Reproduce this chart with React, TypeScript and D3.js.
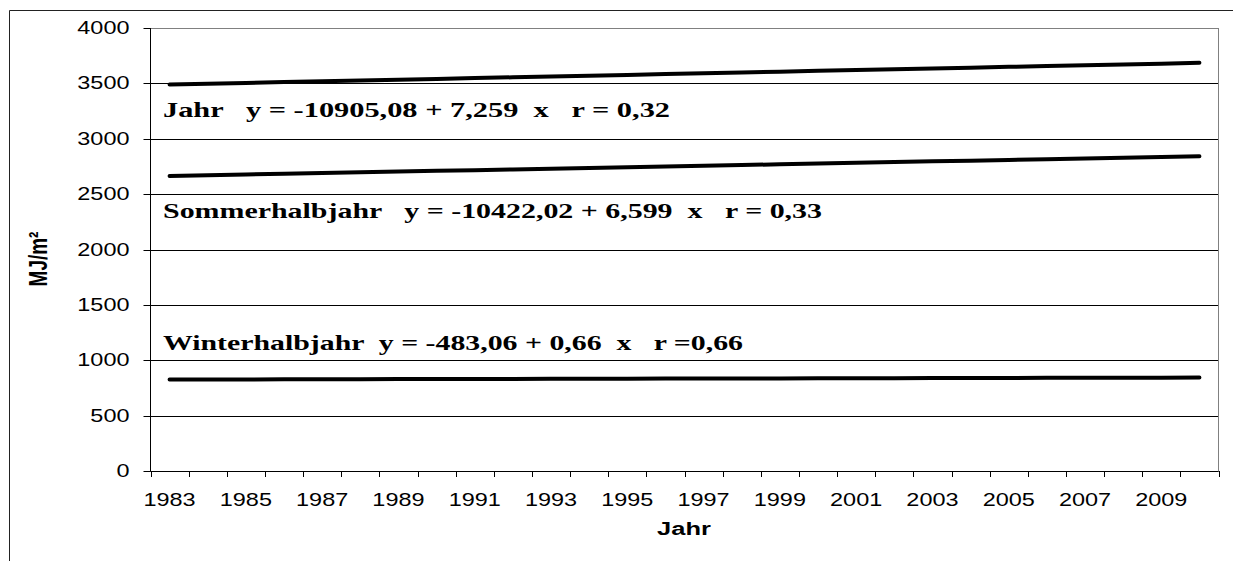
import React from 'react';
import * as d3 from 'd3';

// Categories: one per year
const years: number[] = [
  1983, 1984, 1985, 1986, 1987, 1988, 1989, 1990, 1991, 1992, 1993, 1994, 1995, 1996,
  1997, 1998, 1999, 2000, 2001, 2002, 2003, 2004, 2005, 2006, 2007, 2008, 2009, 2010,
];

// Global radiation sums (MJ/m²), linear trend series
const jahr: number[] = [
  3489.5, 3496.8, 3504.0, 3511.3, 3518.6, 3525.8, 3533.1, 3540.3, 3547.6, 3554.8,
  3562.1, 3569.4, 3576.6, 3583.9, 3591.1, 3598.4, 3605.7, 3612.9, 3620.2, 3627.4,
  3634.7, 3642.0, 3649.2, 3656.5, 3663.7, 3671.0, 3678.3, 3685.5,
];
const sommerhalbjahr: number[] = [
  2663.8, 2670.4, 2677.0, 2683.6, 2690.2, 2696.8, 2703.4, 2710.0, 2716.6, 2723.2,
  2729.8, 2736.4, 2743.0, 2749.6, 2756.2, 2762.8, 2769.4, 2776.0, 2782.6, 2789.2,
  2795.8, 2802.4, 2809.0, 2815.6, 2822.2, 2828.8, 2835.4, 2842.0,
];
const winterhalbjahr: number[] = [
  825.7, 826.4, 827.0, 827.7, 828.4, 829.0, 829.7, 830.3, 831.0, 831.7,
  832.3, 833.0, 833.6, 834.3, 835.0, 835.6, 836.3, 836.9, 837.6, 838.3,
  838.9, 839.6, 840.2, 840.9, 841.6, 842.2, 842.9, 843.5,
];

const yTicks: number[] = [0, 500, 1000, 1500, 2000, 2500, 3000, 3500, 4000];
const xTickLabels: number[] = [1983, 1985, 1987, 1989, 1991, 1993, 1995, 1997, 1999, 2001, 2003, 2005, 2007, 2009];

// Regression annotations with the value each one sits at
const annotations = [
  { text: 'Jahr   y = -10905,08 + 7,259  x   r = 0,32', at: 3200, width: 507 },
  { text: 'Sommerhalbjahr   y = -10422,02 + 6,599  x   r = 0,33', at: 2285, width: 659 },
  { text: 'Winterhalbjahr  y = -483,06 + 0,66  x   r =0,66', at: 1090, width: 580 },
];

const W = 1233;
const H = 561;
const plot = { left: 150.5, right: 1218.5, top: 28, bottom: 471 };
const SX = 1.34; // horizontal glyph stretch

export default function App() {
  const x = d3
    .scaleBand<number>()
    .domain(years)
    .range([plot.left, plot.right])
    .paddingInner(0)
    .paddingOuter(0);
  const y = d3.scaleLinear().domain([0, 4000]).range([plot.bottom, plot.top]);
  const cx = (yr: number) => (x(yr) as number) + x.bandwidth() / 2;

  const line = d3
    .line<number>()
    .x((_, i) => cx(years[i]))
    .y((v) => y(v));

  const boundaries = years.map((yr) => x(yr) as number).concat([plot.right]);

  const sans = 'Arial, "Liberation Sans", sans-serif';
  const serif = '"Times New Roman", "Liberation Serif", serif';

  return (
    <svg
      width={W}
      height={H}
      style={{ position: 'absolute', left: 0, top: 0, background: '#fff' }}
    >
      <rect x={0} y={0} width={W} height={H} fill="#fff" />
      {/* chart frame */}
      <path d={`M9.5,${H} V10.5 H${W}`} fill="none" stroke="#222" strokeWidth={1} />

      {/* gridlines */}
      {yTicks
        .filter((t) => t > 0 && t < 4000)
        .map((t) => (
          <line
            key={t}
            x1={plot.left}
            x2={plot.right}
            y1={Math.round(y(t)) + 0.5}
            y2={Math.round(y(t)) + 0.5}
            stroke="#000"
            strokeWidth={1}
          />
        ))}
      {/* plot area border */}
      <rect
        x={plot.left}
        y={plot.top + 0.5}
        width={plot.right - plot.left}
        height={plot.bottom - plot.top}
        fill="none"
        stroke="#808080"
        strokeWidth={1}
      />
      {/* axes */}
      <line x1={plot.left} x2={plot.left} y1={plot.top} y2={plot.bottom + 0.5} stroke="#000" />
      <line x1={plot.left} x2={plot.right} y1={plot.bottom + 0.5} y2={plot.bottom + 0.5} stroke="#000" />

      {/* y ticks and labels */}
      {yTicks.map((t) => {
        const yy = Math.round(y(t)) + 0.5;
        return (
          <g key={t}>
            <line x1={plot.left - 7} x2={plot.left} y1={yy} y2={yy} stroke="#000" />
            <text
              transform={`translate(129.5,${yy + 5.5}) scale(${SX},1)`}
              textAnchor="end"
              fontFamily={sans}
              fontSize={17.5}
              fill="#000"
            >
              {t}
            </text>
          </g>
        );
      })}

      {/* x ticks */}
      {boundaries.map((bx, i) => (
        <line
          key={i}
          x1={Math.round(bx) + 0.5}
          x2={Math.round(bx) + 0.5}
          y1={plot.bottom}
          y2={plot.bottom + 6}
          stroke="#000"
        />
      ))}
      {xTickLabels.map((yr) => (
        <text
          key={yr}
          transform={`translate(${cx(yr)},506) scale(${SX},1)`}
          textAnchor="middle"
          fontFamily={sans}
          fontSize={17.5}
          fill="#000"
        >
          {yr}
        </text>
      ))}

      {/* axis titles */}
      <text
        transform={`translate(684,535) scale(${SX},1)`}
        textAnchor="middle"
        fontFamily={sans}
        fontWeight="bold"
        fontSize={19}
        fill="#000"
      >
        Jahr
      </text>
      <text
        transform={`translate(47,259) scale(${SX},1) rotate(-90)`}
        textAnchor="middle"
        fontFamily={sans}
        fontWeight="bold"
        fontSize={19}
        fill="#000"
      >
        MJ/m²
      </text>

      {/* series */}
      {[jahr, sommerhalbjahr, winterhalbjahr].map((s, i) => (
        <path
          key={i}
          d={line(s) as string}
          fill="none"
          stroke="#000"
          strokeWidth={4}
          strokeLinejoin="round"
          strokeLinecap="round"
        />
      ))}

      {/* regression annotations */}
      {annotations.map((a) => (
        <text
          key={a.text}
          x={163}
          y={y(a.at)}
          textLength={a.width}
          lengthAdjust="spacingAndGlyphs"
          fontFamily={serif}
          fontWeight="bold"
          fontSize={21.5}
          fill="#000"
          style={{ whiteSpace: 'pre' }}
        >
          {a.text}
        </text>
      ))}
    </svg>
  );
}
